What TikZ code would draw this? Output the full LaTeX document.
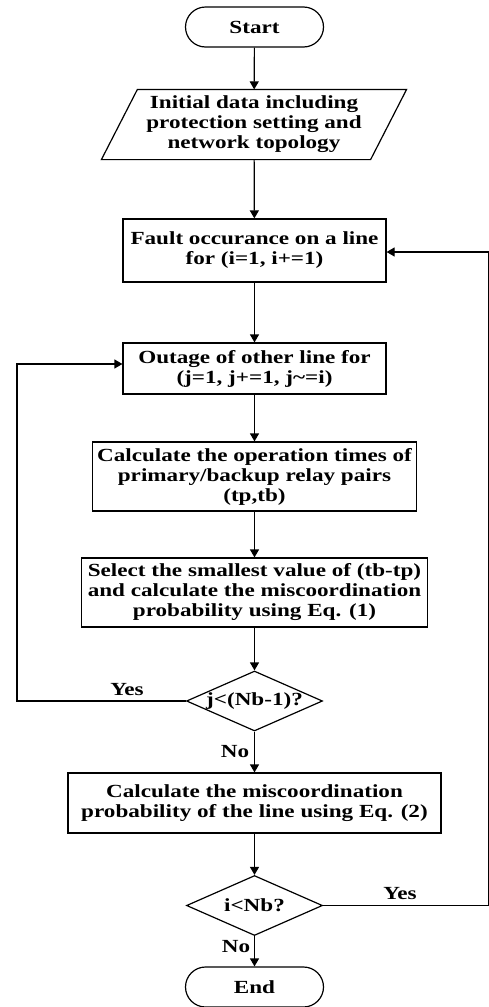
\documentclass[tikz,border=0pt]{standalone}
\usepackage{fontspec}
\newfontfamily\flowfont{Liberation Serif}[FakeStretch=1.25]
\usetikzlibrary{arrows.meta,shapes.geometric}
\tikzset{
  box/.style={draw, align=center, inner sep=2pt},
  term/.style={draw, rounded corners=20pt, minimum width=138pt, minimum height=40pt},
  decision/.style={draw, diamond, aspect=2.27, minimum width=136pt, minimum height=60pt, inner sep=0pt},
  lbl/.style={inner sep=1pt}
}
\begin{document}
\begin{tikzpicture}[x=1pt, y=-1pt, line width=1.2pt, >={Triangle[length=8pt,width=9pt]},
  every node/.style={font=\flowfont\bfseries\fontsize{18.5}{20}\selectfont}]
\useasboundingbox (0, 0) rectangle (489, 1007);
\node[term] (start) at(254.5, 27) {Start};
\node[box, draw=none, minimum width=268pt, minimum height=69pt] (init) at(254, 124.5)
  {Initial data including\\protection setting and\\network topology};
\draw ([xshift=18pt]init.north west) -- ([xshift=18pt]init.north east)
  -- ([xshift=-18pt]init.south east) -- ([xshift=-18pt]init.south west) -- cycle;
\node[box, minimum width=263pt, minimum height=63pt] (fault) at(254.5, 250.5)
  {Fault occurance on a line\\for (i=1, i+=1)};
\node[box, minimum width=263pt, minimum height=51pt] (outage) at(254.5, 368.5)
  {Outage of other line for\\(j=1, j+=1, j\textasciitilde=i)};
\node[box, minimum width=324pt, minimum height=69pt] (optime) at(254.5, 476.5)
  {Calculate the operation times of\\primary/backup relay pairs\\(tp,tb)};
\node[box, minimum width=346pt, minimum height=69pt] (select) at(254.5, 592.5)
  {Select the smallest value of (tb-tp)\\and calculate the miscoordination\\probability using Eq. (1)};
\node[decision] (jcheck) at(254.5, 701) {j<(Nb-1)?};
\node[box, minimum width=373pt, minimum height=60pt] (misc) at(254.5, 803)
  {Calculate the miscoordination\\probability of the line using Eq. (2)};
\node[decision] (icheck) at(254.5, 905.5) {i<Nb?};
\node[term] (end) at(254.5, 987) {End};
% main flow
\draw[->] (start) -- (init);
\draw[->] (init) -- (fault);
\draw[->] (fault) -- (outage);
\draw[->] (outage) -- (optime);
\draw[->] (optime) -- (select);
\draw[->] (select) -- (jcheck);
\draw[->] (jcheck) -- (misc);
\draw[->] (misc) -- (icheck);
\draw[->] (icheck) -- (end);
% loops
\coordinate (lbot) at(17, 701);
\coordinate (ltop) at(17, 364);
\draw[->] (jcheck.west) -- (lbot) -- (ltop) -- (outage.west |- ltop);
\coordinate (rbot) at(488.5, 905.5);
\coordinate (rtop) at(488.5, 252);
\draw[->] (icheck.east) -- (rbot) -- (rtop) -- (fault.east |- rtop);
% labels
\node[lbl] (yes1) at(127, 690) {Yes};
\node[lbl] (no1) at(235, 752) {No};
\node[lbl] (yes2) at(400, 894) {Yes};
\node[lbl] (no2) at(236, 947) {No};
\end{tikzpicture}
\end{document}
